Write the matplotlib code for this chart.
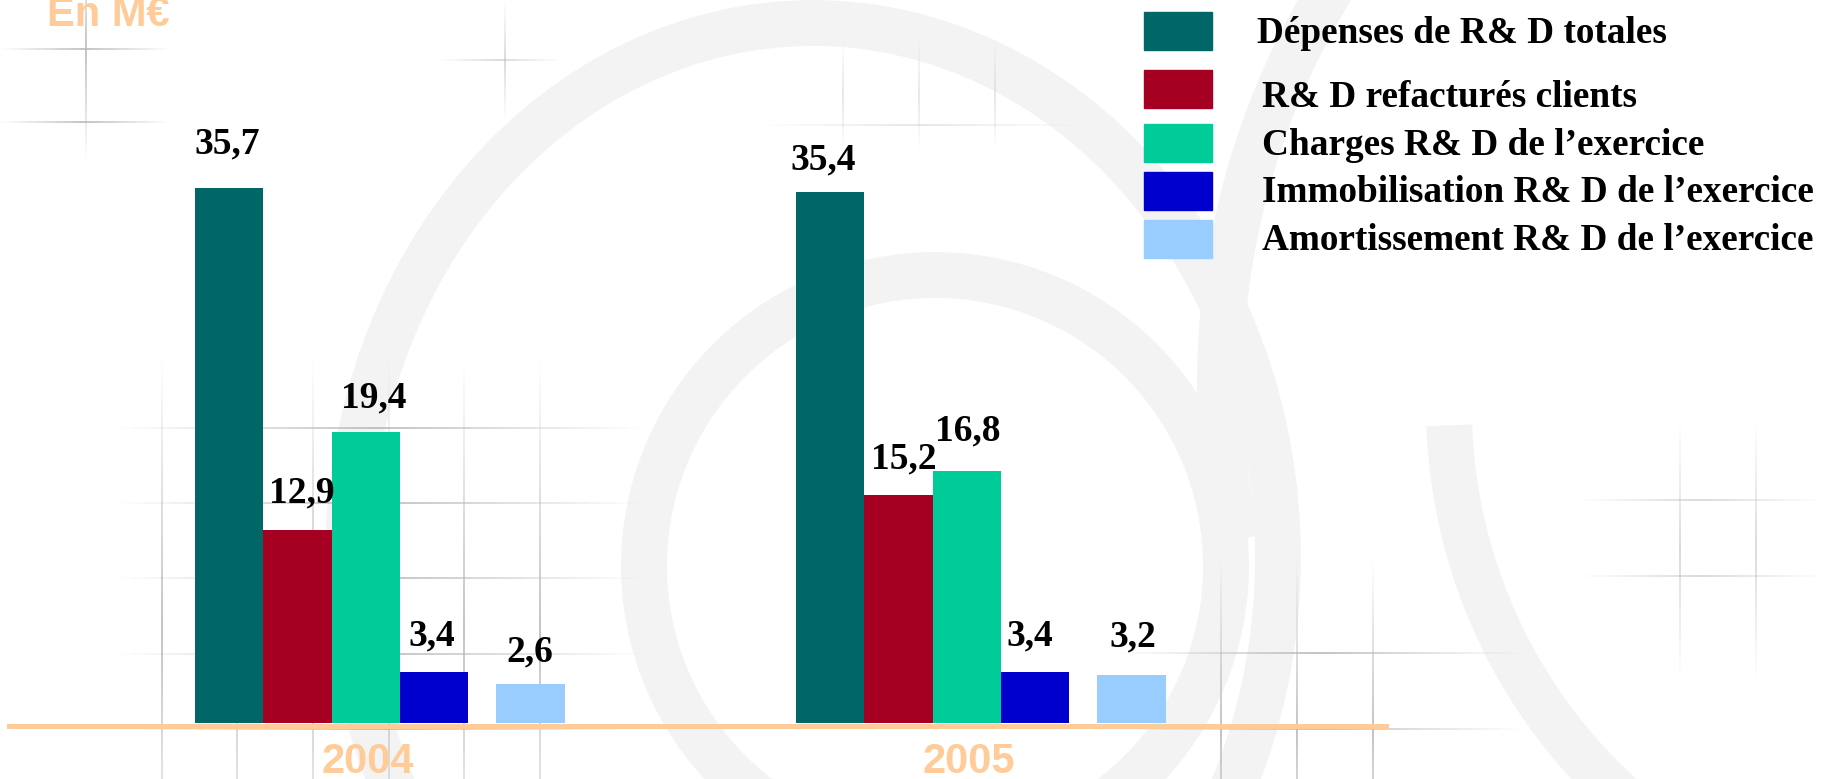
import numpy as np
import matplotlib.pyplot as plt
from matplotlib.patches import Ellipse, Rectangle, Arc
from matplotlib.collections import LineCollection

# Données (en M€)
annees = ['2004', '2005']
series = ['Dépenses de R& D totales',
          'R& D refacturés clients',
          'Charges R& D de l’exercice',
          'Immobilisation R& D de l’exercice',
          'Amortissement R& D de l’exercice']
depenses_totales = [35.7, 35.4]
refactures_clients = [12.9, 15.2]
charges_exercice = [19.4, 16.8]
immobilisation = [3.4, 3.4]
amortissement = [2.6, 3.2]
valeurs = [depenses_totales, refactures_clients, charges_exercice,
           immobilisation, amortissement]

couleurs = ['#006666', '#A50021', '#00CC99', '#0000CC', '#99CCFF']
orange = '#FFCC99'

# Mise en page (pixels de l'image 1822x779)
W, H = 1822, 779
px_par_unite = 15.0        # hauteur d'une unité (M€)
base_px = 723              # ligne de base, depuis le haut
ecart_groupes = 601        # distance entre les deux années
x0_px = 195                # bord gauche de la première barre
largeur = 68.3 / ecart_groupes
decalage_series = [0, 1, 2, 3, 4.41]   # en largeurs de barre

# décalages des étiquettes (px) : (dx, dy) par série et par année
decal_etiq = [[(-1.5, 44), (-6.5, 32)],
              [(4, 37), (5.5, 36)],
              [(7.5, 34), (1, 40)],
              [(-2.5, 36), (-5, 36)],
              [(-1, 32), (2, 38)]]

fig = plt.figure(figsize=(W / 100, H / 100), dpi=100)
fig.patch.set_facecolor('white')

# --- fond : filigrane (anneaux gris clair + quadrillage estompé), en pixels
fond = fig.add_axes([0, 0, 1, 1], zorder=-1)
fond.set_xlim(0, W)
fond.set_ylim(H, 0)
fond.axis('off')

gris = '#F3F3F3'
fond.add_patch(Ellipse((813, 558), 930, 1070, fill=False, ec=gris, lw=33))
fond.add_patch(Ellipse((935, 566), 582, 582, fill=False, ec=gris, lw=33))
fond.add_patch(Arc((1975, 383), 1510, 1510, theta1=168, theta2=216,
                   ec=gris, lw=33))
fond.add_patch(Arc((1975, 407), 1052, 1052, theta1=128, theta2=178,
                   ec=gris, lw=33))


def grille(xs, ys, xr, yr, force=1.0):
    """Lignes grises qui s'estompent vers leurs extrémités."""
    segs, cols = [], []
    n = 40
    for x in xs:
        t = np.linspace(yr[0], yr[1], n + 1)
        for a, b in zip(t[:-1], t[1:]):
            m = (a + b) / 2
            alpha = 1 - abs(m - (yr[0] + yr[1]) / 2) / ((yr[1] - yr[0]) / 2)
            segs.append([(x, a), (x, b)])
            cols.append((0.72, 0.72, 0.72, force * alpha))
    for y in ys:
        t = np.linspace(xr[0], xr[1], n + 1)
        for a, b in zip(t[:-1], t[1:]):
            m = (a + b) / 2
            alpha = 1 - abs(m - (xr[0] + xr[1]) / 2) / ((xr[1] - xr[0]) / 2)
            segs.append([(a, y), (b, y)])
            cols.append((0.72, 0.72, 0.72, force * alpha))
    fond.add_collection(LineCollection(segs, colors=cols, lw=1.2))


grille([162, 237, 313, 389, 464, 540], [428, 503, 578, 654, 729],
       (120, 640), (360, 900))
grille([1221, 1297, 1373], [653, 729], (1120, 1520), (560, 900))
grille([843, 919, 995], [125], (760, 1080), (40, 150), force=0.4)
grille([86], [49, 122], (0, 170), (-60, 160))
grille([1680, 1756], [500, 576], (1580, 1822), (420, 680), force=0.6)
grille([505], [60], (440, 560), (0, 120), force=0.6)

# --- graphique
ax = fig.add_axes([0, 0, 1, 1])
ax.set_xlim(-x0_px / ecart_groupes, (W - x0_px) / ecart_groupes)
ax.set_ylim(-(H - base_px) / px_par_unite, base_px / px_par_unite)
ax.axis('off')

# ligne de base orange
ax.axhline(-2.5 / px_par_unite, xmin=9 / W, xmax=1386 / W, color=orange,
           lw=3.6, zorder=1)

for i, (vals, couleur) in enumerate(zip(valeurs, couleurs)):
    xs = [g + decalage_series[i] * largeur for g in range(len(annees))]
    barres = ax.bar(xs, vals, width=largeur, align='edge', color=couleur,
                    zorder=2)
    for j, b in enumerate(barres):
        dx, dy = decal_etiq[i][j]
        ax.annotate(f'{vals[j]:.1f}'.replace('.', ','),
                    (b.get_x() + b.get_width() / 2, b.get_height()),
                    xytext=(dx * 0.72, dy * 0.72), textcoords='offset points',
                    ha='center', va='center', fontsize=27, fontweight='bold',
                    family='Liberation Serif', color='black', zorder=3)

# années sous l'axe
for g, annee in enumerate(annees):
    ax.text(g + 173 / ecart_groupes, -39 / px_par_unite, annee, ha='center',
            va='center', fontsize=30, fontweight='bold',
            family='Liberation Sans', color=orange)

# unité (coupée en haut, comme sur l'original)
fig.text(47 / W, 1 - 26 / H, 'En M€', ha='left', va='baseline', fontsize=30,
         fontweight='bold', family='Liberation Sans', color=orange)

# légende
centres_carres = [31, 89, 143, 191, 239]
bases_texte = [43, 107, 155, 202, 250]
for i, nom in enumerate(series):
    fig.add_artist(Rectangle((1144 / W, 1 - (centres_carres[i] + 19) / H),
                             68 / W, 38 / H, color=couleurs[i],
                             transform=fig.transFigure))
    x_txt = 1257 if i == 0 else 1262
    fig.text(x_txt / W, 1 - bases_texte[i] / H, nom, ha='left',
             va='baseline', fontsize=26.8, fontweight='bold',
             family='Liberation Serif', color='black')

fig.savefig('out.png', dpi=100)
